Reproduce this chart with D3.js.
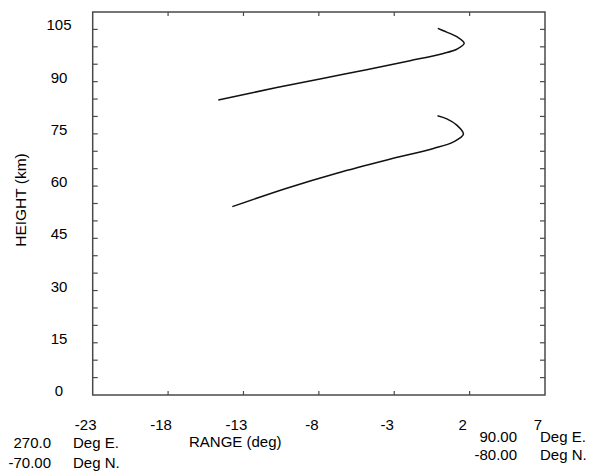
<!DOCTYPE html>
<html>
<head>
<meta charset="utf-8">
<script src="https://cdn.jsdelivr.net/npm/d3@7"></script>
<style>
  body { margin: 0; background: #fff; }
  text { font-family: "Liberation Sans", Arial, sans-serif; font-size: 15px; fill: #000; }
</style>
</head>
<body>
<script>
// data
var rangeTicks = [-23, -18, -13, -8, -3, 2, 7];
var heightLabels = [0, 15, 30, 45, 60, 75, 90, 105];
var heightMinor = d3.range(5, 110, 5);

// upper ray (range deg, height km)
var upperRange  = [-14.67, -10.79, -6.37, -1.95, 0.26, 1.15, 1.64, 1.15, 0.26, -0.11];
var upperHeight = [84.7, 88.3, 92.1, 96.0, 98.1, 99.3, 101.0, 102.9, 104.6, 105.3];
// lower ray
var lowerRange  = [-13.74, -10.13, -6.81, -3.49, -0.40, 0.93, 1.59, 1.15, 0.49, -0.13];
var lowerHeight = [54.1, 59.4, 63.7, 67.5, 70.8, 72.7, 74.9, 77.5, 79.3, 80.2];

var width = 590, height = 473;
// plot frame (note: "top" is reserved on window, so use pTop etc.)
var pLeft = 92.7, pRight = 545, pTop = 12, pBottom = 395;

var svg = d3.select("body").append("svg").attr("width", width).attr("height", height);

var x = d3.scaleLinear().domain([-23, 7]).range([pLeft, pRight]);
var y = d3.scaleLinear().domain([0, 110]).range([pBottom, pTop]);

// frame
svg.append("rect")
    .attr("x", pLeft).attr("y", pTop)
    .attr("width", pRight - pLeft).attr("height", pBottom - pTop)
    .attr("fill", "none").attr("stroke", "#4a4a4a").attr("stroke-width", 1.5);

var inner = rangeTicks.slice(1, -1);

// ticks on x (top and bottom, inward)
svg.append("g").selectAll("line").data(inner).enter().append("line")
    .attr("x1", d => x(d)).attr("x2", d => x(d))
    .attr("y1", pBottom).attr("y2", pBottom - 4)
    .attr("stroke", "#4a4a4a").attr("stroke-width", 1.2);
svg.append("g").selectAll("line").data(inner).enter().append("line")
    .attr("x1", d => x(d)).attr("x2", d => x(d))
    .attr("y1", pTop).attr("y2", pTop + 4)
    .attr("stroke", "#4a4a4a").attr("stroke-width", 1.2);

// ticks on y (left and right, inward)
svg.append("g").selectAll("line").data(heightMinor).enter().append("line")
    .attr("x1", pLeft).attr("x2", pLeft + 5)
    .attr("y1", d => y(d)).attr("y2", d => y(d))
    .attr("stroke", "#4a4a4a").attr("stroke-width", 1.2);
svg.append("g").selectAll("line").data(heightMinor).enter().append("line")
    .attr("x1", pRight).attr("x2", pRight - 5)
    .attr("y1", d => y(d)).attr("y2", d => y(d))
    .attr("stroke", "#4a4a4a").attr("stroke-width", 1.2);

// tick labels
svg.append("g").selectAll("text").data(rangeTicks).enter().append("text")
    .attr("x", d => x(d) - 7).attr("y", 430)
    .attr("text-anchor", "middle")
    .text(d => d);
svg.append("g").selectAll("text").data(heightLabels).enter().append("text")
    .attr("x", 59).attr("y", d => y(d) + 1)
    .attr("text-anchor", "middle")
    .text(d => d);

// axis titles
svg.append("text").attr("x", 189).attr("y", 447).text("RANGE (deg)");
svg.append("text")
    .attr("transform", "translate(26,200) rotate(-90)")
    .attr("text-anchor", "middle")
    .style("font-size", "15.5px")
    .text("HEIGHT (km)");

// coordinates of the path ends
svg.append("text").attr("x", 51).attr("y", 448).attr("text-anchor", "end").text("270.0");
svg.append("text").attr("x", 73).attr("y", 448).text("Deg E.");
svg.append("text").attr("x", 51).attr("y", 468).attr("text-anchor", "end").text("-70.00");
svg.append("text").attr("x", 73).attr("y", 468).text("Deg N.");
svg.append("text").attr("x", 517).attr("y", 442).attr("text-anchor", "end").text("90.00");
svg.append("text").attr("x", 540).attr("y", 442).text("Deg E.");
svg.append("text").attr("x", 517).attr("y", 460).attr("text-anchor", "end").text("-80.00");
svg.append("text").attr("x", 540).attr("y", 460).text("Deg N.");

// rays
var line = d3.line()
    .x(d => x(d[0])).y(d => y(d[1]))
    .curve(d3.curveCatmullRom.alpha(0.5));

[[upperRange, upperHeight], [lowerRange, lowerHeight]].forEach(function (s) {
    var pts = d3.zip(s[0], s[1]);
    svg.append("path")
        .datum(pts)
        .attr("d", line)
        .attr("fill", "none")
        .attr("stroke", "#111")
        .attr("stroke-width", 1.5);
});
</script>
</body>
</html>
